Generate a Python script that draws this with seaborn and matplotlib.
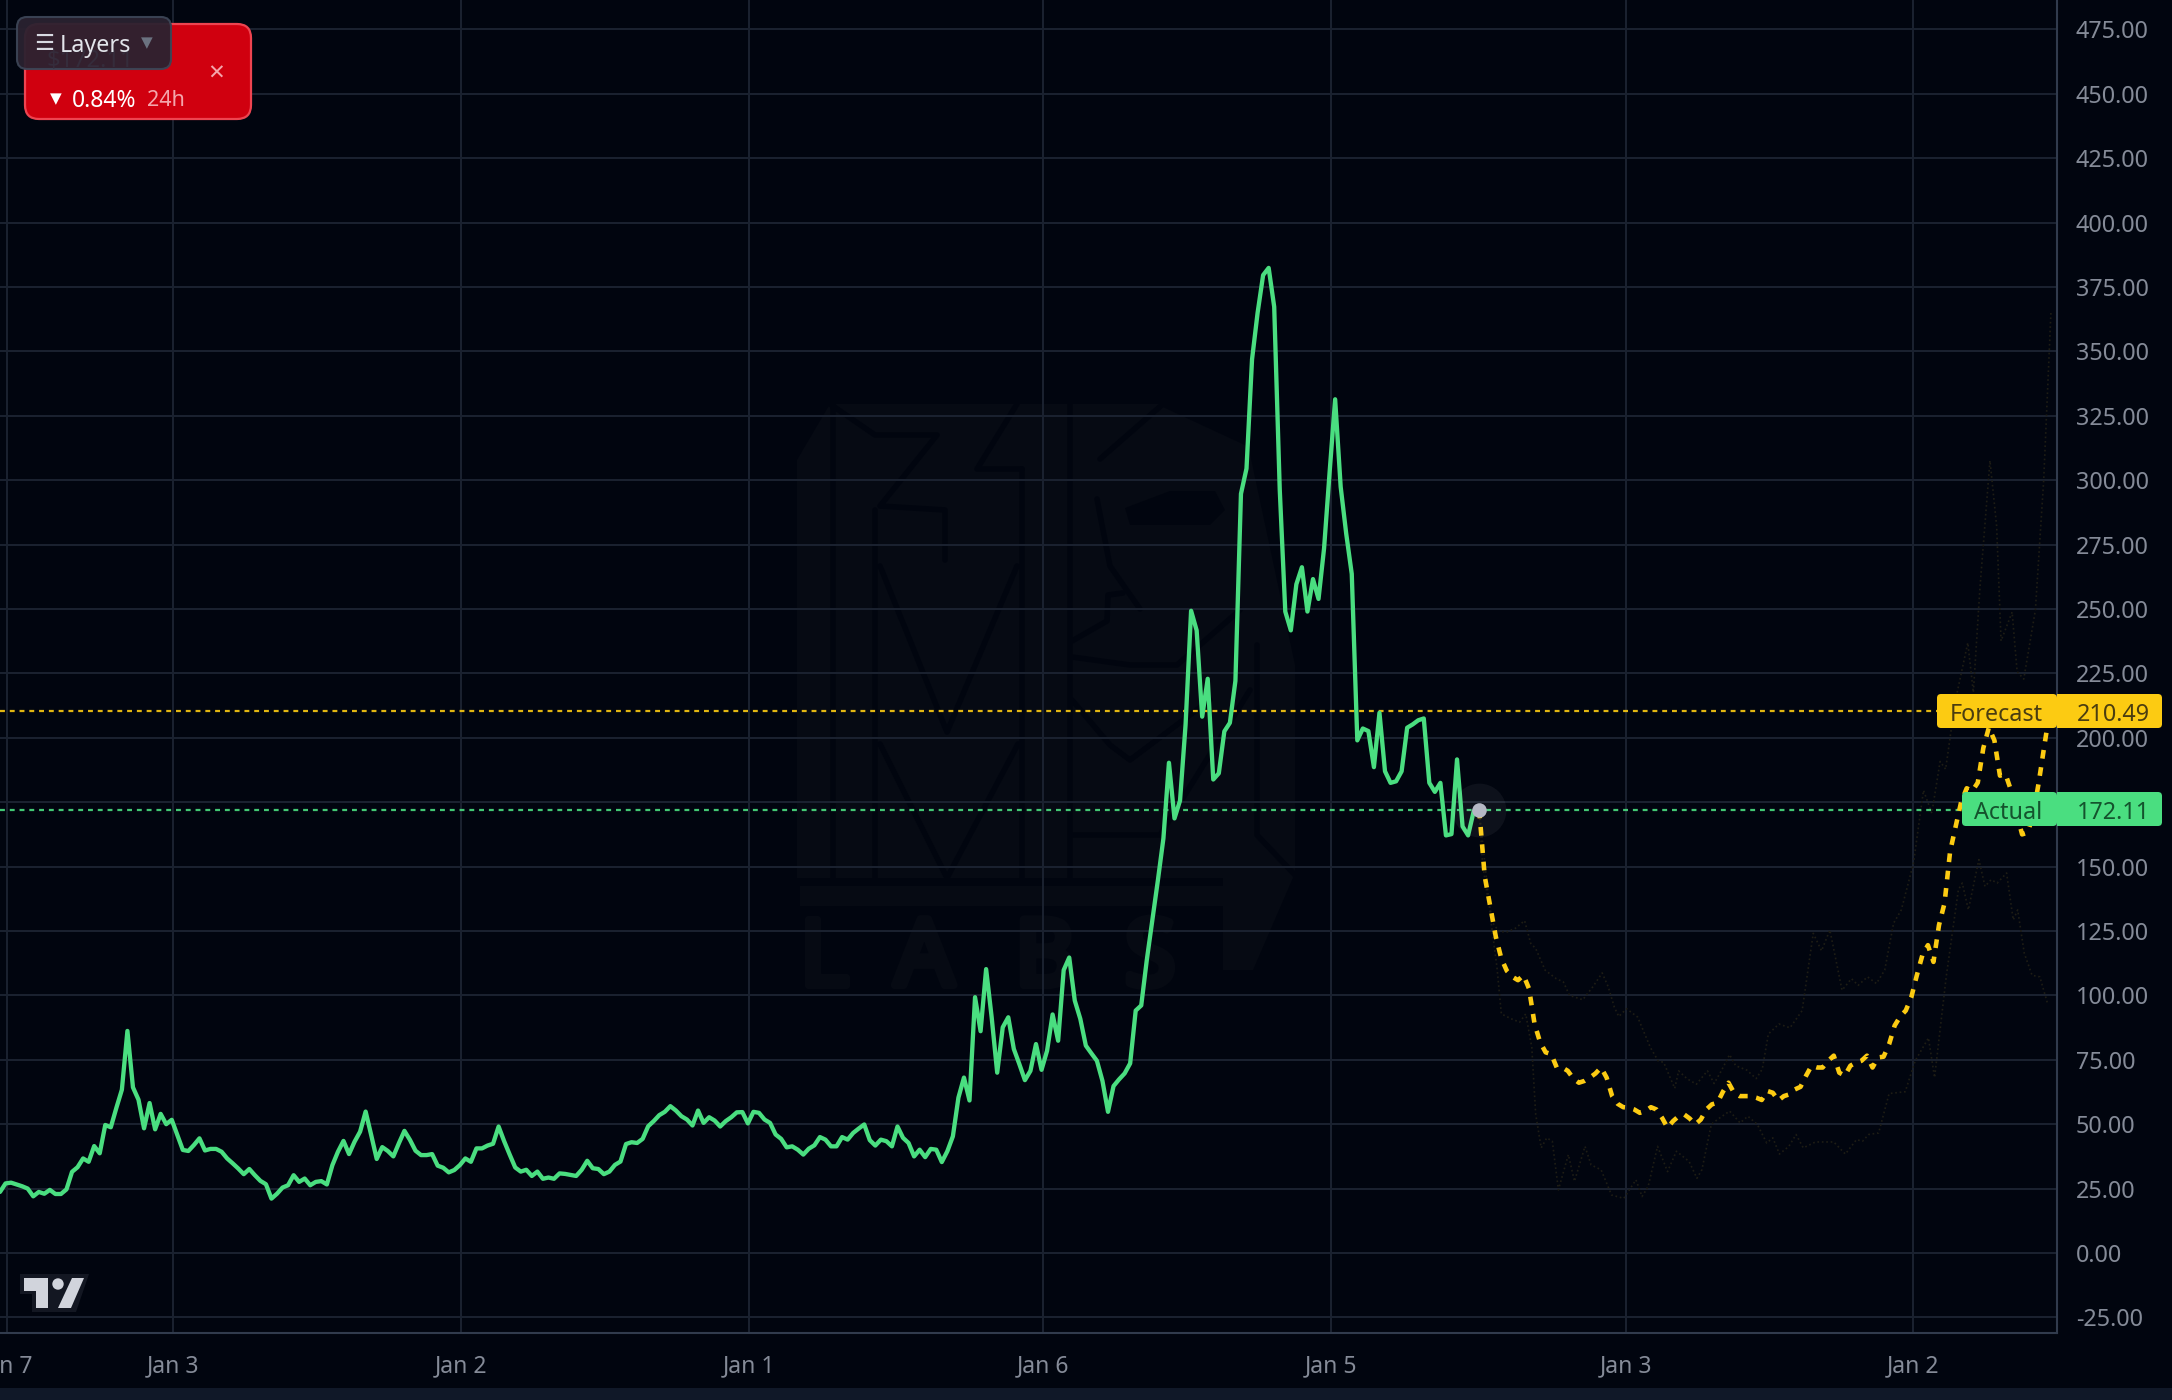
import numpy as np
import matplotlib.pyplot as plt
import matplotlib.patheffects as pe
import seaborn as sns
from matplotlib.patches import Circle, FancyBboxPatch, Polygon, Rectangle


# Weekly closes, one per week from the left edge
actual_values = [
    23.7, 27, 27.3, 26.6, 25.9, 25, 22, 23.7, 23, 24.5, 22.9, 22.9, 24.7, 31.5, 33.3, 36.7,
    35.4, 41.5, 38.7, 49.7, 48.8, 56.3, 63.4, 86.2, 64.3, 59.5, 48.4, 58.2, 48, 54, 50, 51.7,
    45.8, 40, 39.6, 41.9, 44.5, 39.8, 40.4, 40.4, 39.3, 36.7, 34.8, 32.8, 30.6, 32.6, 30.2, 28,
    26.7, 21.1, 23, 25.4, 26.3, 30.2, 27.6, 28.9, 26.3, 27.6, 27.9, 26.6, 34.1, 39.3, 43.5,
    38.4, 43.2, 47.1, 54.9, 45.8, 36.5, 41.1, 39.6, 37.5, 42.6, 47.4, 43.9, 39.7, 38, 38, 38.4,
    33.9, 33.1, 31.3, 32.2, 34.1, 36.7, 35.4, 40.6, 40.6, 41.7, 42.4, 49.1,
    43.4, 38.2, 33.2, 31.6, 32.3, 29.9, 31.6, 28.8, 29.3, 28.8, 30.9, 30.7, 30.3, 29.9, 32.3,
    35.8, 32.9, 32.6, 30.6, 31.6, 34.2, 35.5, 42.3, 43, 42.7, 44.3, 49.2, 51.2, 53.5, 54.8, 57,
    55.3, 53.1, 51.8, 49.5, 55.3, 50.5, 52.7, 51.4, 49.1, 51.2, 52.7, 54.6, 54.7, 50.3, 54.8,
    54.4, 51.8, 50.5, 46, 44.3, 41, 41.4, 40.1, 38.2, 40.5, 41.8, 45, 44, 41.4, 41.4, 45, 44,
    46.6, 48.3, 49.9, 43.8, 41.7, 44, 43.4, 41.4, 49.1, 44.7, 42.7, 37.5, 40.1, 37.2, 40.4,
    40.1, 35.3, 39.5, 45.3, 60.3, 68.1, 59.2,
    99.3, 86.1, 110.2, 91.5, 70, 87.6, 91.5, 79.2, 73.3, 67.1, 70.7, 81.1, 71.1, 78.5, 92.6,
    82.4, 109.8, 114.7, 98, 90.9, 80.5, 77.5, 74.6, 66.8, 54.8, 64.8, 67.4, 69.7, 73.6, 94.1,
    96.1, 113.7, 129.3, 144.6,
    160.9, 190.3, 168.7, 175.6, 205, 249.3, 241.7, 208.2, 222.9, 183.8, 186.2, 202.5, 205.8,
    222.1, 294.7, 304.5, 346.9, 364.9, 379.6, 382.4, 367.3, 296.4, 249, 241.7, 259.6, 266.2,
    249, 261.6, 253.9, 273.5, 303, 331.4, 297.4, 279.2, 263.6, 199, 203.6, 202.6, 188.6, 209.7,
    187, 182.5, 183.1, 187, 203.9, 205.2, 206.8, 207.5, 182.5, 179, 182.5, 162.1, 162.6, 191.6,
    165.6, 162.1, 171.4, 172.11,
]

# Forecast starts on the last actual week
forecast_values = [
    172.11, 146.2, 134.5, 122.8, 114.3, 109.5, 107.2, 105.9, 107.8, 102.6, 88.9, 81.8, 77.9,
    77.2, 72, 72, 70.7, 67.7, 66.1, 66.8, 68.1, 69.7, 72, 68.1, 60.9, 57.9, 56.6, 56.4, 55.7,
    54.4, 55.1, 56.6, 55.7, 52.5, 48.6, 51.2, 53.1, 53.8, 52.2, 49.9, 51.8, 55.7, 57.7, 58.3,
    62.6, 66.1, 62.2, 60.9, 60.9, 60.9, 60.3, 59.4, 62.9, 62.2, 59.2, 60.9, 61.6, 63.5, 64.5,
    68.8, 72.7, 72, 72, 74.6, 76.6, 70, 68.8, 72.7, 73.9, 74.6, 76.6, 72, 75.9, 76.2, 81.1,
    88.3, 91.8, 94.1, 99.3, 107.8, 115.6, 119.5, 113, 127.3, 135.8,
    155.8, 165.5, 175.1, 180.4, 179.3, 182.6, 196, 204, 199, 185.3, 185.9, 179.6, 170.7, 162.5,
    163.2, 170, 182.6, 196.7, 210.49,
]

# Faint forecast bands, read at their visible corners
upper_weeks = [
    267, 267.6, 268.4, 269.5, 270.6, 272.1, 273.5, 275.2, 276.3, 277.2, 278.9, 280.9, 282.2,
    283.3, 285.7, 287.5, 289.2, 290.3, 291.4, 292.2, 293.6, 295.6, 297.9, 299.3, 300.3, 302.3,
    303, 304.5, 306.2, 308.2, 309.4, 310.7, 312.2, 313.3, 315.3, 317, 318.1, 319.2, 321.1,
    323.1, 325.3, 327.3, 328.8, 330.3, 332.5, 334.2, 335.4, 337.1, 338.7, 340.2, 341.8, 343.2,
    345.4, 347.2, 348.7, 350.2, 351.2, 352.9, 355.2, 356.2, 357.4, 359.2, 360.4, 361.2, 363.2,
    364.1, 365.3, 367.4, 368.9, 370.2,
]
upper_values = [
    172.1, 151.4, 139.7, 128, 124.7, 124.7, 126, 129, 120.2, 118.2, 109.8, 106.5, 105.2, 100,
    98.3, 103.3, 108.7, 103.3, 95.4, 91.8, 94.8, 91.6, 79.8, 74.6, 74, 63.9, 70.7, 67.7, 65.5,
    70.7, 65.8, 70.7, 77, 72.7, 71, 67.7, 71.4, 85, 88.9, 87.4, 94.1, 124.1, 117.3, 125.4, 102,
    106.5, 103.9, 107.2, 104.6, 109.8, 128, 133.2, 151.4, 179.6, 170.7, 190.8, 187.8, 213.8,
    236.9, 217.6, 258.5, 307.6, 282.3, 237.6, 248.8, 225.7, 222.8, 249.6, 300.1, 364.9,
]
lower_weeks = [
    267, 269.1, 270.2, 271, 272.8, 274.3, 275.4, 276.5, 277.2, 278.2, 279.2, 280.2, 281.3,
    283.1, 284.2, 286.1, 287.2, 289, 290.9, 293.1, 295.3, 296.4, 297.5, 299.2, 301, 302.6,
    304.9, 306.3, 307.2, 308.9, 310, 312.2, 314.1, 315.5, 317.2, 318.9, 320, 321.2, 322.9,
    324.2, 325.5, 327.7, 331, 333.1, 335.1, 336.2, 337.3, 339.1, 341, 343.9, 345.7, 348.1,
    349.2, 351.3, 353.5, 354.2, 355.3, 357.2, 358.3, 359.4, 360.5, 362.2, 363.4, 364.2, 365.4,
    366.8, 368.2, 369.6,
]
lower_values = [
    172.1, 129.3, 111.1, 92.8, 90.9, 89.6, 92.8, 79.8, 53.8, 40.8, 44.7, 43.4, 24.5, 38.2, 27.8,
    41.4, 34.2, 32.3, 22.5, 21.2, 28.4, 21.9, 25.8, 41.4, 31.6, 39.5, 35.5, 29, 32.3, 49.9,
    51.8, 55.1, 50.5, 53.1, 49.9, 42.7, 44.7, 38.4, 41.4, 46, 40.8, 43.1, 43.1, 38.4, 44, 43.4,
    46, 46.6, 61.9, 62.6, 74.6, 83.5, 68.1, 107.2, 141, 143.6, 133.2, 152.7, 142.3, 144.9,
    143.6, 147.5, 129.3, 133.2, 116.3, 107.8, 107.2, 96.8,
]

x_tick_weeks = [1.3, 31.2, 83.2, 135.2, 188.3, 240.3, 293.5, 345.3]
x_tick_labels = ["Jan 7", "Jan 3", "Jan 2", "Jan 1", "Jan 6", "Jan 5", "Jan 3", "Jan 2"]
y_ticks = list(range(-25, 500, 25))

actual_last = 172.11
forecast_last = 210.49

BG = "#01050f"
GRID = "#1b2230"
AXIS = "#313b4d"
TICK = "#858b98"
GREEN = "#4ade80"
YELLOW = "#fccb12"
SHADE = "#060a13"
W, H = 2172, 1400

sns.set_theme(style="dark")
plt.rcParams["font.family"] = ["Noto Sans", "DejaVu Sans"]

fig = plt.figure(figsize=(W / 100, H / 100), dpi=100, facecolor=BG)


def pixel_axes(zorder):
    # whole-figure axes in image pixels, for the non-data furniture
    a = fig.add_axes([0, 0, 1, 1], zorder=zorder)
    a.set_xlim(0, W)
    a.set_ylim(H, 0)
    a.axis("off")
    return a


under = pixel_axes(0)
ax = fig.add_axes([0, 67 / H, 2057 / W, 1333 / H], zorder=1)
over = pixel_axes(2)

# Watermark behind the grid
under.add_patch(Rectangle((0, 1388), W, 12, color="#101828", lw=0))
under.add_patch(Polygon([(797, 460), (830, 404), (1070, 404), (1070, 878), (797, 878)], color=SHADE, lw=0))
under.add_patch(Polygon([(1070, 404), (1163, 404), (1247, 440), (1295, 665), (1295, 873), (1253, 970),
                         (1223, 970), (1223, 878), (1070, 878)], color=SHADE, lw=0))
under.add_patch(Polygon([(800, 886), (1223, 886), (1223, 906), (800, 906)], color=SHADE, lw=0))
for seg in [
    [(833, 404), (833, 878)], [(875, 510), (875, 878)], [(830, 404), (875, 435), (937, 435), (880, 506), (945, 510), (945, 560)],
    [(880, 566), (947, 732), (1017, 566)], [(880, 744), (947, 878), (1018, 744)],
    [(1022, 469), (1022, 878)], [(1017, 404), (977, 469), (1022, 469)], [(1070, 404), (1070, 878)],
    [(1100, 459), (1163, 404), (1247, 443)], [(1097, 499), (1110, 566), (1140, 609)],
    [(1072, 641), (1107, 621), (1108, 595), (1123, 593)], [(1072, 657), (1130, 665), (1177, 665), (1240, 610)],
    [(1072, 700), (1110, 745), (1130, 760), (1210, 700)], [(1072, 835), (1160, 835), (1250, 690)],
    [(1257, 645), (1257, 835), (1295, 875)],
]:
    xs, ys = zip(*seg)
    under.plot(xs, ys, color=BG, lw=4)
under.add_patch(Polygon([(1125, 508), (1170, 491), (1215, 491), (1225, 510), (1210, 525), (1130, 525)],
                        fc=BG, lw=0))
for letter, lx in zip("LABS", [800, 895, 1015, 1125]):
    under.text(lx, 985, letter, color=SHADE, fontsize=66, fontweight="bold", ha="left", va="baseline",
               path_effects=[pe.withStroke(linewidth=6, foreground=SHADE)])

# Chart axes
ax.patch.set_alpha(0)
ax.set_xlim(0, 2057 / 5.54)
ax.set_ylim(-31.06, 486.4)
ax.grid(True, color=GRID, linewidth=1.4)
ax.set_axisbelow(True)

band_style = dict(color="#1e1d15", linewidth=1.2, linestyle=":", errorbar=None, sort=False, ax=ax)
sns.lineplot(x=upper_weeks, y=upper_values, **band_style)
sns.lineplot(x=lower_weeks, y=lower_values, **band_style)

ax.axhline(forecast_last, color=YELLOW, linewidth=1.6, linestyle=(0, (2.2, 2.2)), alpha=0.9)
ax.axhline(actual_last, color=GREEN, linewidth=1.6, linestyle=(0, (2.2, 2.2)), alpha=0.9)

sns.lineplot(x=np.arange(len(actual_values)), y=actual_values, color=GREEN, linewidth=3.1,
             errorbar=None, sort=False, ax=ax)
forecast_start = len(actual_values) - 1
sns.lineplot(x=np.arange(len(forecast_values)) + forecast_start, y=forecast_values, color=YELLOW,
             linewidth=3.3, linestyle=(0, (1.9, 1.9)), errorbar=None, sort=False, ax=ax)
ax.scatter([forecast_start], [actual_last], s=1500, color="white", alpha=0.05, linewidths=0, zorder=5)
ax.scatter([forecast_start], [actual_last], s=110, color="#b4b7c4", linewidths=0, zorder=6)

ax.set_xticks(x_tick_weeks)
ax.set_xticklabels(x_tick_labels)
ax.set_yticks(y_ticks)
ax.set_yticklabels([f"{v:.2f}" for v in y_ticks])
ax.yaxis.tick_right()
ax.tick_params(axis="x", length=0, pad=15, labelsize=16.5, labelcolor=TICK)
ax.tick_params(axis="y", length=0, pad=13.5, labelsize=16.8, labelcolor=TICK)
for lab in ax.get_xticklabels():
    lab.set_fontweight("bold")
for side in ["top", "left"]:
    ax.spines[side].set_visible(False)
for side in ["right", "bottom"]:
    ax.spines[side].set_visible(True)
    ax.spines[side].set_color(AXIS)
    ax.spines[side].set_linewidth(1.5)


def price_tag(name, value, left, top, color, ink, name_x):
    h = 34
    over.add_patch(FancyBboxPatch((left + 3, top + 3), 2054 - left - 3, h - 6, boxstyle="round,pad=3,rounding_size=4",
                                  fc=color, lw=0))
    over.add_patch(FancyBboxPatch((2060, top + 3), 99, h - 6, boxstyle="round,pad=3,rounding_size=4",
                                  fc=color, lw=0))
    over.add_patch(Rectangle((2057, top), 10, h, fc=color, lw=0))
    over.text(name_x, top + h / 2 + 4, name, color=ink, fontsize=16.8, ha="left", va="center")
    over.text(2077, top + h / 2 + 4, f"{value:.2f}", color=ink, fontsize=16.8, ha="left", va="center")


price_tag("Forecast", forecast_last, 1937, 694, YELLOW, "#4a3d10", 1950)
price_tag("Actual", actual_last, 1962, 792, GREEN, "#14532d", 1974)

# TradingView mark
over.add_patch(Polygon([(20, 1274), (89, 1274), (76, 1312), (32, 1312), (32, 1294), (20, 1294)], fc="#131722", lw=0))
over.add_patch(Polygon([(24, 1278), (48, 1278), (48, 1308), (36, 1308), (36, 1291), (24, 1291)], fc="#d1d4dc", lw=0))
over.add_patch(Circle((58, 1284), 5.7, fc="#d1d4dc", lw=0))
over.add_patch(Polygon([(72, 1278), (84, 1278), (71, 1308), (58, 1308)], fc="#d1d4dc", lw=0))

# Price badge with the Layers button on top
over.add_patch(FancyBboxPatch((31, 30), 214, 83, boxstyle="round,pad=6,rounding_size=14",
                              fc="#d0000f", ec="#ee4450", lw=1.6))
over.text(216, 75, "×", color="#f4a6ac", fontsize=20, ha="center", va="center")
over.text(50, 100, "▼", color="white", fontsize=11, va="center")
over.text(72, 101, "0.84%", color="white", fontsize=16.5, fontweight="bold", va="center")
over.text(147, 101, "24h", color="#f4a6ac", fontsize=15.5, fontweight="medium", va="center")
over.add_patch(FancyBboxPatch((23, 23), 142, 40, boxstyle="round,pad=6,rounding_size=10",
                              fc="#2a2230", ec="#3c4556", lw=1.5, alpha=0.95))
over.text(47, 60, "$172.11", color="#352c3b", fontsize=17, fontweight="bold", va="center")
over.text(34, 44, "☰", color="#d8dae2", fontsize=16, va="center")
over.text(60, 46, "Layers", color="#e2e4ea", fontsize=16.8, fontweight="bold", va="center")
over.text(141, 44, "▼", color="#6b7280", fontsize=11, va="center")

fig.savefig("out.png", dpi=100, facecolor=BG)
